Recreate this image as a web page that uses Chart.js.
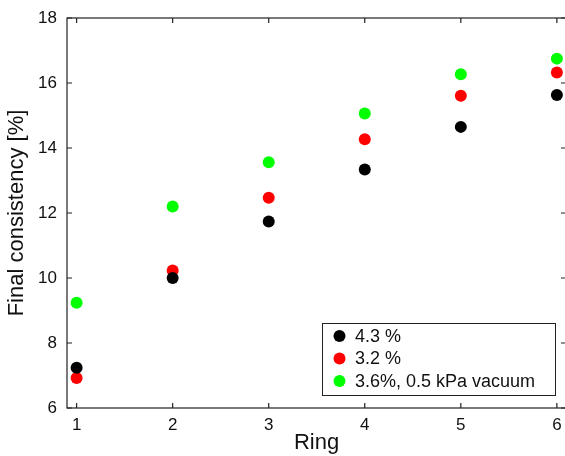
<!DOCTYPE html>
<html><head><meta charset="utf-8">
<script src="https://cdn.jsdelivr.net/npm/chart.js@4/dist/chart.umd.min.js"></script>
<style>html,body{margin:0;padding:0;background:#fff;overflow:hidden}#wrap{width:565px;height:456px;overflow:hidden}</style>
</head><body><div id="wrap"><canvas id="c" width="567" height="456"></canvas></div>
<script>
const rings = [1, 2, 3, 4, 5, 6];
const series43 = [7.24, 10.0, 11.74, 13.34, 14.65, 15.63];
const series32 = [6.92, 10.23, 12.47, 14.27, 15.61, 16.32];
const series36vac = [9.24, 12.2, 13.56, 15.06, 16.27, 16.75];
const seriesLabels = ['4.3 %', '3.2 %', '3.6%, 0.5 kPa vacuum'];
const seriesColors = ['#000000', '#ff0000', '#00ff00'];
const xTicks = [1, 2, 3, 4, 5, 6];
const yTicks = [6, 8, 10, 12, 14, 16, 18];

const FONT = '"Liberation Sans", Arial, sans-serif';
const toPts = arr => arr.map((v, i) => ({x: rings[i], y: v}));
const allSeries = [series43, series32, series36vac];

const framePlugin = {
  id: 'frame',
  afterDatasetsDraw(chart) {
    const {ctx, chartArea: a, scales: {x, y}} = chart;
    ctx.save();
    ctx.strokeStyle = '#222';
    ctx.lineWidth = 1.2;
    ctx.strokeRect(a.left, a.top, a.right - a.left, a.bottom - a.top);
    ctx.beginPath();
    const tl = 5;
    xTicks.forEach(v => {
      const px = x.getPixelForValue(v);
      ctx.moveTo(px, a.bottom); ctx.lineTo(px, a.bottom - tl);
      ctx.moveTo(px, a.top); ctx.lineTo(px, a.top + tl);
    });
    yTicks.forEach(v => {
      const py = y.getPixelForValue(v);
      ctx.moveTo(a.left, py); ctx.lineTo(a.left + tl, py);
      ctx.moveTo(a.right, py); ctx.lineTo(a.right - tl, py);
    });
    ctx.stroke();
    // legend box
    const bx = 322, by = 323, bw = 233, bh = 72;
    ctx.fillStyle = '#fff';
    ctx.fillRect(bx, by, bw, bh);
    ctx.strokeStyle = '#222';
    ctx.lineWidth = 1;
    ctx.strokeRect(bx + 0.5, by + 0.5, bw, bh);
    ctx.font = '18px ' + FONT;
    ctx.textBaseline = 'middle';
    chart.data.datasets.forEach((ds, i) => {
      const cy = by + 13 + i * 22.5;
      ctx.fillStyle = ds.backgroundColor;
      ctx.beginPath(); ctx.arc(bx + 17.5, cy, 6, 0, Math.PI * 2); ctx.fill();
      ctx.fillStyle = '#111';
      ctx.fillText(ds.label, bx + 33, cy + 1);
    });
    ctx.restore();
  }
};

new Chart(document.getElementById('c'), {
  type: 'scatter',
  data: {
    datasets: allSeries.map((s, i) => ({
      label: seriesLabels[i],
      data: toPts(s),
      backgroundColor: seriesColors[i],
      borderColor: seriesColors[i],
      borderWidth: 0,
      pointRadius: 6,
      pointHoverRadius: 6
    }))
  },
  options: {
    responsive: false,
    animation: false,
    layout: {autoPadding: false, padding: {top: 18, right: 1, left: 0, bottom: 0}},
    plugins: {legend: {display: false}, tooltip: {enabled: false}},
    scales: {
      x: {
        type: 'linear', min: 0.9, max: 6.095,
        afterBuildTicks: s => { s.ticks = xTicks.map(v => ({value: v})); },
        afterFit: s => { s.height = 48; s.paddingLeft = 0; s.paddingRight = 0; },
        grid: {display: false, drawTicks: false},
        border: {display: false},
        ticks: {color: '#111', font: {family: FONT, size: 17}, padding: 7, maxRotation: 0},
        title: {display: true, text: 'Ring', color: '#111', font: {family: FONT, size: 22}, padding: {top: 0, bottom: 0}}
      },
      y: {
        type: 'linear', min: 6, max: 18,
        afterBuildTicks: s => { s.ticks = yTicks.map(v => ({value: v})); },
        afterFit: s => { s.width = 67; s.paddingTop = 0; s.paddingBottom = 0; },
        grid: {display: false, drawTicks: false},
        border: {display: false},
        ticks: {color: '#111', font: {family: FONT, size: 17}, padding: 10},
        title: {display: true, text: 'Final consistency [%]', color: '#111', font: {family: FONT, size: 22}, padding: {top: 4, bottom: 0}}
      }
    }
  },
  plugins: [framePlugin]
});
</script></body></html>
